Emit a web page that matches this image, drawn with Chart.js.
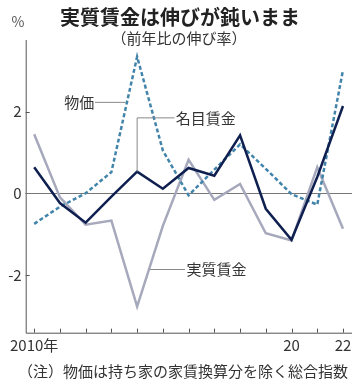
<!DOCTYPE html>
<html lang="ja">
<head>
<meta charset="UTF-8">
<title>実質賃金は伸びが鈍いまま</title>
<script src="https://cdn.jsdelivr.net/npm/chart.js"></script>
<style>
  body { margin: 0; background: #fff; }
  canvas { display: block; }
</style>
</head>
<body>
<canvas id="wageChart" width="362" height="386"></canvas>
<script>
  const years = [2010, 2011, 2012, 2013, 2014, 2015, 2016, 2017, 2018, 2019, 2020, 2021, 2022];
  const prices = [-0.75, -0.33, 0.0, 0.52, 3.35, 1.05, -0.05, 0.58, 1.2, 0.6, -0.02, -0.28, 3.02];
  const nominalWage = [0.64, -0.24, -0.72, -0.08, 0.53, 0.11, 0.62, 0.43, 1.42, -0.38, -1.14, 0.4, 2.14];
  const realWage = [1.45, -0.1, -0.77, -0.67, -2.78, -0.8, 0.82, -0.16, 0.23, -0.98, -1.16, 0.64, -0.87];
  const yTicks = [-2, 0, 2];

  const FONT = '"Noto Sans CJK JP", "Noto Sans", sans-serif';
  const toPoints = vals => vals.map((v, i) => ({ x: years[i], y: v }));

  // axes, zero line, leader lines and texts
  const overlay = {
    id: 'overlay',
    beforeDatasetsDraw(chart) {
      const { ctx, chartArea: a, scales: { x, y } } = chart;
      ctx.save();
      ctx.strokeStyle = '#555';
      ctx.lineWidth = 1;
      ctx.beginPath();
      ctx.moveTo(a.left + 0.5, a.top);
      ctx.lineTo(a.left + 0.5, a.bottom + 0.5);
      ctx.lineTo(a.right, a.bottom + 0.5);
      years.forEach(yr => {
        const px = Math.round(x.getPixelForValue(yr)) + 0.5;
        ctx.moveTo(px, a.bottom);
        ctx.lineTo(px, a.bottom - 4);
      });
      yTicks.forEach(v => {
        const py = Math.round(y.getPixelForValue(v)) + 0.5;
        ctx.moveTo(a.left, py);
        ctx.lineTo(a.left + 4, py);
      });
      ctx.stroke();
      // zero line
      ctx.strokeStyle = '#777';
      ctx.beginPath();
      const zy = Math.round(y.getPixelForValue(0)) + 0.5;
      ctx.moveTo(a.left, zy);
      ctx.lineTo(a.right, zy);
      ctx.stroke();
      ctx.restore();
    },
    afterDraw(chart) {
      const { ctx, scales: { x, y } } = chart;
      const X = v => x.getPixelForValue(v);
      const Y = v => y.getPixelForValue(v);
      ctx.save();
      ctx.textBaseline = 'middle';
      ctx.fillStyle = '#222';
      ctx.textAlign = 'center';
      ctx.font = 'bold 20px ' + FONT;
      ctx.fillText('実質賃金は伸びが鈍いまま', 180, 17);
      ctx.fillStyle = '#333';
      ctx.font = '15px ' + FONT;
      ctx.fillText('（前年比の伸び率）', 179, 38);
      ctx.fillText('（注）物価は持ち家の家賃換算分を除く総合指数', 183, 371);
      ctx.fillStyle = '#555';
      ctx.font = '14px ' + FONT;
      ctx.fillText('%', 18, 22);

      // leader lines
      ctx.strokeStyle = '#888';
      ctx.lineWidth = 1;
      ctx.beginPath();
      ctx.moveTo(X(2012.36), Y(2.23));
      ctx.lineTo(X(2013.55), Y(2.23));
      ctx.moveTo(X(2014), Y(nominalWage[4]));
      ctx.lineTo(X(2014), Y(1.85));
      ctx.lineTo(X(2015.45), Y(1.85));
      ctx.moveTo(X(2014.5), Y(-1.87));
      ctx.lineTo(X(2015.86), Y(-1.87));
      ctx.stroke();

      ctx.fillStyle = '#333';
      ctx.font = '15px ' + FONT;
      ctx.textAlign = 'right';
      ctx.fillText('物価', X(2012.33), Y(2.23));
      ctx.textAlign = 'left';
      ctx.fillText('名目賃金', X(2015.5), Y(1.85));
      ctx.fillText('実質賃金', X(2015.92), Y(-1.87));
      ctx.restore();
    }
  };

  new Chart(document.getElementById('wageChart'), {
    type: 'line',
    data: {
      datasets: [
        { label: '名目賃金', data: toPoints(nominalWage), borderColor: '#0f2050', borderWidth: 2.5 },
        { label: '物価', data: toPoints(prices), borderColor: '#4284aa', borderWidth: 2.5, borderDash: [4, 2.5] },
        { label: '実質賃金', data: toPoints(realWage), borderColor: '#a6a8bc', borderWidth: 2.5 }
      ]
    },
    options: {
      responsive: false,
      animation: false,
      layout: { padding: { top: 40, right: 10, left: 0, bottom: 0 } },
      elements: { point: { radius: 0 }, line: { tension: 0, borderJoinStyle: 'miter' } },
      plugins: { legend: { display: false }, tooltip: { enabled: false } },
      scales: {
        x: {
          type: 'linear',
          min: 2009.67,
          max: 2022.35,
          border: { display: false },
          grid: { display: false, drawTicks: false },
          afterFit: s => { s.height = 53.3; },
          afterBuildTicks: s => { s.ticks = years.map(v => ({ value: v })); },
          ticks: {
            autoSkip: false,
            maxRotation: 0,
            padding: 4,
            color: '#333',
            font: { family: FONT, size: 15 },
            callback: v => v === 2010 ? '2010年' : (v === 2020 || v === 2022 ? String(v).slice(2) : '')
          }
        },
        y: {
          min: -3.42,
          max: 3.76,
          border: { display: false },
          grid: { display: false, drawTicks: false },
          afterFit: s => { s.width = 25.7; },
          afterBuildTicks: s => { s.ticks = yTicks.map(v => ({ value: v })); },
          ticks: {
            padding: 4,
            color: '#333',
            font: { family: FONT, size: 15 },
            callback: v => String(v)
          }
        }
      }
    },
    plugins: [overlay]
  });
</script>
</body>
</html>
